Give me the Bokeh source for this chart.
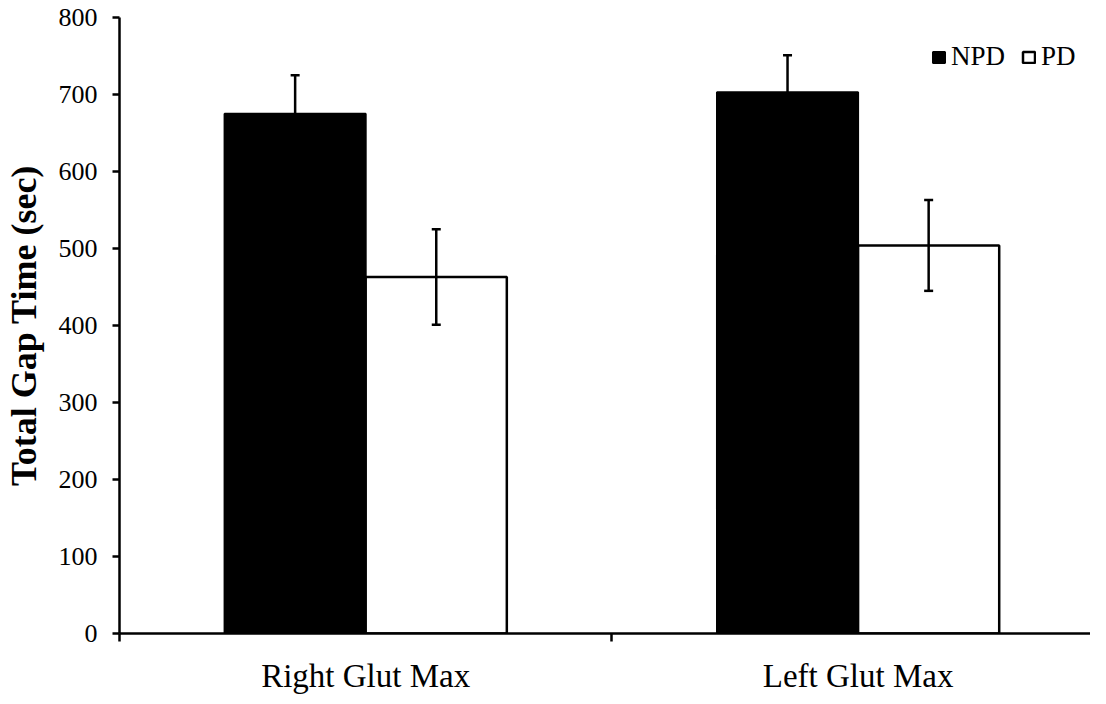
from bokeh.plotting import figure
from bokeh.models import (ColumnDataSource, Range1d, FixedTicker, Whisker, TeeHead,
                          Legend, LegendItem)
from bokeh.transform import dodge
from bokeh.embed import file_html
from bokeh.resources import INLINE

categories = ["Right Glut Max", "Left Glut Max"]
npd_means = [675, 703]
npd_err = [50, 48]
pd_means = [463, 504]
pd_err = [62, 59]
y_ticks = [0, 100, 200, 300, 400, 500, 600, 700, 800]

FONT = "Liberation Serif"
BAR_W = 0.2866
OFF = 0.1433

x_pos = [i + 0.5 for i in range(len(categories))]
src = ColumnDataSource(dict(
    x=x_pos,
    npd=npd_means,
    pd=pd_means,
    npd_hi=[m + e for m, e in zip(npd_means, npd_err)],
    npd_lo=[m - e for m, e in zip(npd_means, npd_err)],
    pd_hi=[m + e for m, e in zip(pd_means, pd_err)],
    pd_lo=[m - e for m, e in zip(pd_means, pd_err)],
))

p = figure(width=1090, height=696, x_range=Range1d(0, 1.972), y_range=Range1d(0, 800),
           output_backend="svg", toolbar_location=None,
           min_border_left=113, min_border_top=17, min_border_bottom=62, min_border_right=0)
p.outline_line_color = None
p.xgrid.grid_line_color = None
p.ygrid.grid_line_color = None
p.background_fill_color = "white"
p.border_fill_color = "white"

r_npd = p.vbar(x=dodge('x', -OFF), top='npd', width=BAR_W, source=src,
               fill_color="black", line_color="black", line_width=2)
r_pd = p.vbar(x=dodge('x', OFF), top='pd', width=BAR_W, source=src,
              fill_color="white", line_color="black", line_width=2.5)

for base, hi, lo in [(dodge('x', -OFF), 'npd_hi', 'npd_lo'), (dodge('x', OFF), 'pd_hi', 'pd_lo')]:
    w = Whisker(source=src, base=base, upper=hi, lower=lo, line_width=2.5, line_color="black",
                upper_head=TeeHead(size=9, line_width=2.5, line_color="black"),
                lower_head=TeeHead(size=9, line_width=2.5, line_color="black"),
                level="overlay")
    p.add_layout(w)

# x axis: ticks at category boundaries, category names at centres
xa = p.xaxis[0]
xa.ticker = FixedTicker(ticks=x_pos, minor_ticks=list(range(len(categories) + 1)))
xa.major_label_overrides = {x: c for x, c in zip(x_pos, categories)}
xa.major_tick_out = 0
xa.major_tick_in = 0
xa.minor_tick_out = 8
xa.minor_tick_in = 0
xa.minor_tick_line_width = 2.5
xa.minor_tick_line_color = "black"
xa.axis_line_width = 2.5
xa.axis_line_color = "black"
xa.major_label_text_font = FONT
xa.major_label_text_font_size = "33px"
xa.major_label_text_line_height = 1.0
xa.major_label_text_color = "black"
xa.major_label_standoff = 16
xa.axis_label_standoff = 0

ya = p.yaxis[0]
ya.ticker = FixedTicker(ticks=y_ticks)
ya.major_tick_out = 7
ya.major_tick_in = 0
ya.minor_tick_out = 0
ya.minor_tick_in = 0
ya.major_tick_line_width = 2.5
ya.major_tick_line_color = "black"
ya.axis_line_width = 2.5
ya.axis_line_color = "black"
ya.major_label_text_font = FONT
ya.major_label_text_font_size = "26px"
ya.major_label_text_color = "black"
ya.major_label_standoff = 15
ya.axis_label = "Total Gap Time (sec)"
ya.axis_label_text_font = FONT
ya.axis_label_text_font_size = "36px"
ya.axis_label_text_font_style = "bold"
ya.axis_label_text_color = "black"
ya.axis_label_standoff = 12

legend = Legend(items=[LegendItem(label="NPD", renderers=[r_npd]),
                       LegendItem(label="PD", renderers=[r_pd])],
                orientation="horizontal", location=(812, 561),
                glyph_width=15, glyph_height=14, label_standoff=5, spacing=16,
                padding=0, margin=0, border_line_color=None, background_fill_alpha=0,
                label_text_font=FONT, label_text_font_size="27px", label_text_color="black")
p.add_layout(legend, "center")

open("out.html", "w").write(file_html(p, INLINE))
